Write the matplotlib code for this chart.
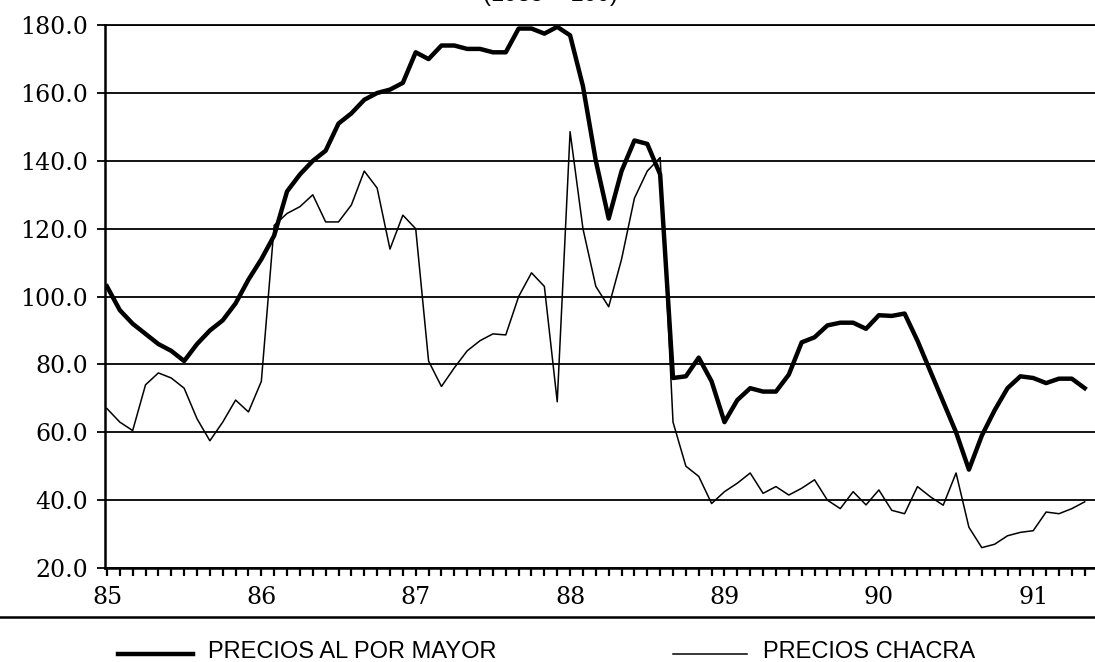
import numpy as np
import matplotlib
matplotlib.use("Agg")
import matplotlib.pyplot as plt
from matplotlib.ticker import MultipleLocator, FixedLocator
from matplotlib.lines import Line2D

# --- Datos (mensuales, ene-85 a may-91) ---
anios = ["85", "86", "87", "88", "89", "90", "91"]

precios_mayor = [
    103, 96, 92, 89, 86, 84, 81, 86, 90, 93, 98, 105,      # 85
    111, 118, 131, 136, 140, 143, 151, 154, 158, 160, 161, 163,   # 86
    172, 170, 174, 174, 173, 173, 172, 172, 179, 179, 177.5, 179.5,  # 87
    177, 162, 140, 123, 137, 146, 145, 136, 76, 76.5, 82, 75,     # 88
    63, 69.5, 73, 72, 72, 77, 86.5, 88, 91.5, 92.3, 92.3, 90.5,   # 89
    94.5, 94.3, 95, 87, 78, 69, 60, 49, 59, 66.5, 73, 76.5,      # 90
    76, 74.5, 75.8, 75.8, 73,                                    # 91
]

precios_chacra = [
    67, 63, 60.5, 74, 77.5, 76, 73, 64, 57.5, 63, 69.5, 66,
    75, 121, 124.5, 126.5, 130, 122, 122, 127, 137, 132, 114, 124,
    120, 81, 73.5, 79, 84, 87, 89, 88.7, 100, 107, 103, 69,
    148.6, 120, 103, 97, 111, 129, 137, 141, 63, 50, 47, 39,
    42.5, 45, 48, 42, 44, 41.5, 43.5, 46, 40, 37.5, 42.5, 38.6,
    43, 37, 36, 44, 41, 38.5, 48, 32, 26, 27, 29.5, 30.5,
    31, 36.5, 36, 37.5, 39.5,
]

meses = np.arange(len(precios_mayor))

fig = plt.figure(figsize=(10.95, 6.62), dpi=100)
ax = fig.add_axes([0.0959, 0.142, 0.9041, 0.820])

ax.plot(meses, precios_mayor, color="black", lw=3.2, solid_joinstyle="round")
ax.plot(meses, precios_chacra, color="black", lw=1.1)

# ejes
ax.set_xlim(-0.15, 76.8)
ax.set_ylim(20, 180)
ax.yaxis.set_major_locator(MultipleLocator(20))
ax.yaxis.set_major_formatter(plt.FormatStrFormatter("%.1f"))
ax.xaxis.set_major_locator(FixedLocator([12 * i for i in range(len(anios))]))
ax.set_xticklabels(anios)
ax.xaxis.set_minor_locator(MultipleLocator(1))

ax.yaxis.grid(True, color="black", lw=1.3)
ax.set_axisbelow(True)

ax.spines["right"].set_visible(False)
ax.spines["top"].set_linewidth(1.3)
ax.spines["left"].set_linewidth(1.8)
ax.spines["bottom"].set_linewidth(1.8)

ax.tick_params(axis="y", direction="out", length=6, width=1.3, pad=6,
               labelsize=17, labelfontfamily="DejaVu Serif")
ax.tick_params(axis="x", which="both", direction="out", length=6, width=1.6,
               pad=7, labelsize=17, labelfontfamily="DejaVu Serif")

# linea separadora y leyenda abajo
fig.add_artist(Line2D([0, 1], [0.068, 0.068], color="black", lw=1.8,
                      transform=fig.transFigure))
fig.add_artist(Line2D([118 / 1095, 193 / 1095], [0.0125, 0.0125],
                      color="black", lw=3.2, transform=fig.transFigure))
fig.text(208 / 1095, 0.006, "PRECIOS AL POR MAYOR", fontsize=17,
         family="Liberation Sans", va="baseline", ha="left")
fig.add_artist(Line2D([673 / 1095, 747 / 1095], [0.0125, 0.0125],
                      color="black", lw=1.1, transform=fig.transFigure))
fig.text(763 / 1095, 0.006, "PRECIOS CHACRA", fontsize=17,
         family="Liberation Sans", va="baseline", ha="left")

# titulo cortado arriba (solo se ve la parte de abajo)
fig.text(550 / 1095, 0.998, "(1985 = 100)", fontsize=17,
         family="Liberation Sans", ha="center", va="baseline")

fig.savefig("out.png", dpi=100)
